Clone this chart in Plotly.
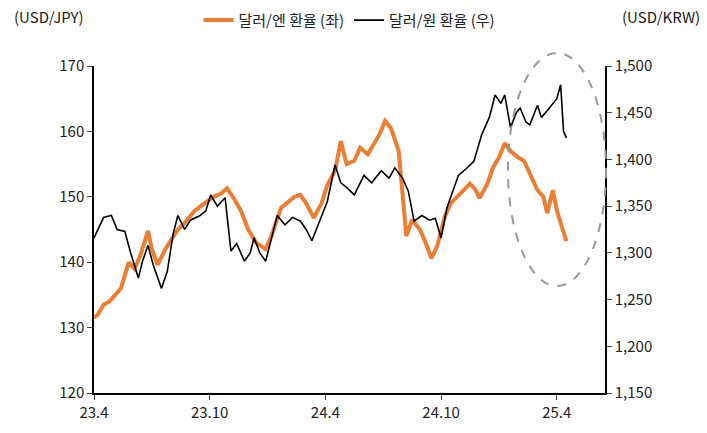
import plotly.graph_objects as go

# months since 2023-04
jpy_x = [0, 0.2, 0.5, 0.8, 1.1, 1.4, 1.8, 2.1, 2.4, 2.8, 3.0, 3.3, 3.7, 4.0, 4.35, 4.7, 5.2, 5.5, 5.9, 6.2, 6.6, 6.9, 7.2,
         7.6, 8.0, 8.4, 8.9, 9.2, 9.7, 10.0, 10.4, 10.7, 11.0, 11.4, 11.8, 12.1, 12.5, 12.8, 13.1, 13.5, 13.8, 14.2,
         14.5, 14.8, 15.1, 15.4, 15.8, 16.2, 16.5, 16.9, 17.2, 17.5, 17.8, 18.2, 18.5, 19.0, 19.5, 19.8, 20.0, 20.4,
         20.7, 21.0, 21.3, 21.6, 22.0, 22.3, 22.7, 23.0, 23.3, 23.5, 23.8, 24.0, 24.2, 24.5]
jpy = [131.5, 132, 133.5, 134, 135, 136, 140, 139, 141, 144.8, 142, 139.6, 142, 143.5, 145, 146, 147.8, 148.5, 149.4, 150, 150.5, 151.3, 150,
       148, 145, 143, 142, 144, 148.3, 149, 150, 150.3, 149, 146.8, 149, 151.8, 154, 158.5, 155, 155.5, 157.5, 156.5,
       158, 159.5, 161.6, 160.5, 157, 144, 146.5, 145, 143, 140.6, 142.5, 147, 149, 150.5, 152, 151, 149.8, 152,
       154.5, 156, 158.2, 157, 156, 155.5, 153, 151, 150, 147.5, 151, 148, 146, 143.2]

krw_x = [0, 0.2, 0.5, 0.9, 1.2, 1.6, 1.9, 2.3, 2.5, 2.8, 3.1, 3.5, 3.8, 4.1, 4.35, 4.7, 5.0, 5.5, 5.8, 6.05, 6.4, 6.8, 7.1,
         7.4, 7.8, 8.1, 8.3, 8.6, 8.9, 9.2, 9.5, 9.9, 10.3, 10.7, 11.0, 11.3, 11.7, 12.1, 12.5, 12.8, 13.1, 13.5, 14.0,
         14.4, 14.9, 15.3, 15.6, 16.0, 16.3, 16.6, 17.0, 17.4, 17.7, 18.0, 18.3, 18.6, 18.9, 19.3, 19.7, 20.1, 20.5,
         20.8, 21.1, 21.3, 21.6, 21.9, 22.1, 22.4, 22.6, 23.0, 23.2, 23.5, 23.8, 24.0, 24.2, 24.35, 24.5]
krw = [1316, 1325, 1338, 1340, 1325, 1323, 1300, 1273, 1290, 1308, 1285, 1262, 1280, 1320, 1340, 1325, 1335, 1340, 1345, 1362, 1350, 1359, 1302,
       1310, 1291, 1300, 1316, 1300, 1291, 1315, 1340, 1330, 1338, 1334, 1325, 1313, 1335, 1355, 1394, 1375, 1370, 1362, 1383,
       1375, 1388, 1380, 1391, 1380, 1366, 1334, 1340, 1335, 1337, 1316, 1348, 1365, 1383, 1390, 1398, 1426, 1445,
       1469, 1460, 1469, 1434, 1450, 1455, 1440, 1437, 1458, 1445, 1452, 1460, 1465, 1480, 1430, 1423]

tick_vals = [0, 6, 12, 18, 24]
tick_text = ["23.4", "23.10", "24.4", "24.10", "25.4"]

font = "Noto Sans CJK KR"

fig = go.Figure()
fig.add_trace(go.Scatter(x=jpy_x, y=jpy, name="달러/엔 환율 (좌)", mode="lines",
                         line=dict(color="#ED7D31", width=4)))
fig.add_trace(go.Scatter(x=krw_x, y=krw, name="달러/원 환율 (우)", mode="lines", yaxis="y2",
                         line=dict(color="black", width=1.6)))

fig.update_layout(
    width=707, height=433,
    margin=dict(l=86, r=110, t=58, b=48, autoexpand=False),
    plot_bgcolor="white", paper_bgcolor="white",
    font=dict(family=font, size=15, color="#222"),
    showlegend=True,
    legend=dict(orientation="h", x=0.5, xanchor="center", y=1.19, yanchor="top",
                font=dict(size=15), bgcolor="rgba(0,0,0,0)"),
    xaxis=dict(range=[0, 26.5], tickvals=tick_vals, ticktext=tick_text, showgrid=False,
               showline=True, linecolor="black", linewidth=1.5, ticks="outside", ticklen=5,
               zeroline=False),
    yaxis=dict(range=[120, 170], dtick=10, showgrid=False, showline=True, linecolor="black",
               linewidth=1.5, ticks="outside", ticklen=5, zeroline=False),
    yaxis2=dict(range=[1150, 1500], dtick=50, overlaying="y", side="right", showgrid=False,
                showline=True, linecolor="black", linewidth=1.5, ticks="outside", ticklen=5,
                tickformat=",d", zeroline=False),
)

fig.add_shape(type="circle", xref="paper", yref="paper", x0=0.81, x1=1.002, y0=0.327, y1=1.04,
              line=dict(color="#999", width=2, dash="dash"))

fig.add_annotation(text="(USD/JPY)", xref="paper", yref="paper", x=-0.16, y=1.19,
                   xanchor="left", yanchor="top", showarrow=False, font=dict(size=15))
fig.add_annotation(text="(USD/KRW)", xref="paper", yref="paper", x=1.19, y=1.19,
                   xanchor="right", yanchor="top", showarrow=False, font=dict(size=15))

fig.write_html("out.html")
